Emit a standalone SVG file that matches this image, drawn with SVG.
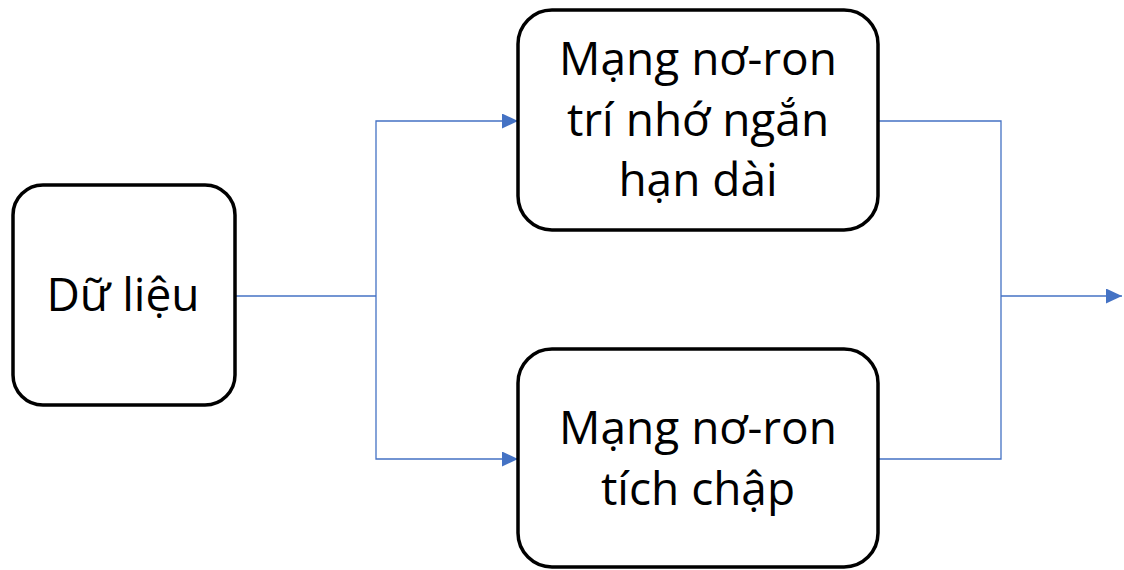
<svg xmlns="http://www.w3.org/2000/svg" width="1124" height="570" viewBox="0 0 1124 570">
<style>
.node{fill:#fff;stroke:#000;stroke-width:3.5}
.lbl{font-family:"Open Sans","Noto Sans","DejaVu Sans",sans-serif;font-size:46px;fill:#000;text-anchor:middle}
.conn{fill:none;stroke:#4472C4;stroke-width:1.3}
</style>
<defs>
<marker id="ah" markerWidth="16" markerHeight="15" refX="16" refY="7.5" orient="auto" markerUnits="userSpaceOnUse">
<path d="M0,0 L16,7.5 L0,15 Z" fill="#4472C4"/>
</marker>
</defs>
<g id="connectors">
<path class="conn" d="M236,296 H376"/>
<path class="conn" d="M376,296 V121 H518" marker-end="url(#ah)"/>
<path class="conn" d="M376,296 V459 H518" marker-end="url(#ah)"/>
<path class="conn" d="M878,121 H1001 V459 H878"/>
<path class="conn" d="M1001,296 H1122" marker-end="url(#ah)"/>
</g>
<g id="node-du-lieu">
<rect class="node" x="13" y="185" width="222" height="220" rx="30"/>
<text class="lbl" x="123" y="311">Dữ liệu</text>
</g>
<g id="node-lstm">
<rect class="node" x="518" y="10" width="360" height="220" rx="34"/>
<text class="lbl" x="698" y="75">Mạng nơ-ron</text>
<text class="lbl" x="698" y="136">trí nhớ ngắn</text>
<text class="lbl" x="698" y="196">hạn dài</text>
</g>
<g id="node-cnn">
<rect class="node" x="518" y="349" width="360" height="218" rx="34"/>
<text class="lbl" x="698" y="444">Mạng nơ-ron</text>
<text class="lbl" x="698" y="505">tích chập</text>
</g>
</svg>
